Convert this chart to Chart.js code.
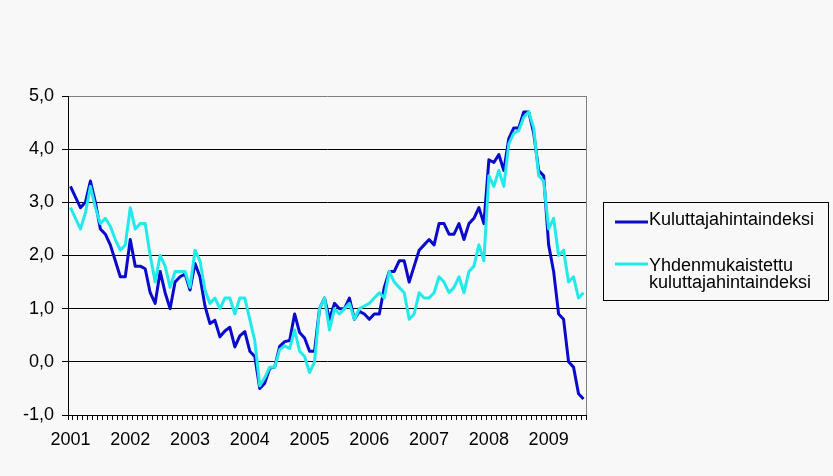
<!DOCTYPE html>
<html><head><meta charset="utf-8">
<script src="https://cdn.jsdelivr.net/npm/chart.js@4/dist/chart.umd.min.js"></script>
<style>html,body{margin:0;padding:0;background:#f8f8f8;}#wrap{width:833px;height:476px;position:relative;}</style>
</head><body><div id="wrap"><canvas id="c" width="833" height="476"></canvas></div>
<script>
const years = ['2001','2002','2003','2004','2005','2006','2007','2008','2009'];
const monthsInLastYear = 8;
const seriesNames = ['Kuluttajahintaindeksi', ['Yhdenmukaistettu', 'kuluttajahintaindeksi']];
const seriesColors = ['#0A0ACC', '#22EAEA'];
// Kuluttajahintaindeksi, annual change %
const cpi = [
  3.3, 3.1, 2.9, 3.0, 3.4, 3.0, 2.5, 2.4, 2.2, 1.9, 1.6, 1.6,
  2.3, 1.8, 1.8, 1.75, 1.3, 1.1, 1.7, 1.3, 1.0, 1.5, 1.6, 1.65,
  1.35, 1.85, 1.6, 1.05, 0.72, 0.78, 0.47, 0.58, 0.65, 0.28, 0.49, 0.57,
  0.2, 0.1, -0.5, -0.4, -0.12, -0.1, 0.29, 0.38, 0.4, 0.9, 0.55, 0.45,
  0.2, 0.2, 1.0, 1.2, 0.8, 1.1, 1.0, 1.0, 1.2, 0.8, 0.95, 0.9,
  0.8, 0.9, 0.9, 1.4, 1.7, 1.7, 1.9, 1.9, 1.5, 1.8, 2.1, 2.2,
  2.3, 2.2, 2.6, 2.6, 2.4, 2.4, 2.6, 2.3, 2.6, 2.7, 2.9, 2.6,
  3.8, 3.75, 3.9, 3.6, 4.2, 4.4, 4.4, 4.7, 4.7, 4.3, 3.6, 3.5,
  2.2, 1.7, 0.9, 0.8, 0.0, -0.1, -0.6, -0.7
];
// Yhdenmukaistettu kuluttajahintaindeksi, annual change %
const hicp = [
  2.9, 2.7, 2.5, 2.8, 3.3, 2.9, 2.6, 2.7, 2.55, 2.3, 2.1, 2.2,
  2.9, 2.5, 2.6, 2.6, 2.0, 1.5, 2.0, 1.8, 1.4, 1.7, 1.7, 1.7,
  1.4, 2.1, 1.9, 1.35, 1.1, 1.2, 1.0, 1.2, 1.2, 0.9, 1.2, 1.2,
  0.8, 0.4, -0.45, -0.3, -0.1, -0.1, 0.23, 0.3, 0.25, 0.6, 0.2, 0.1,
  -0.2, 0.0, 1.0, 1.2, 0.6, 1.0, 0.9, 1.0, 1.1, 0.8, 1.0, 1.05,
  1.1, 1.2, 1.3, 1.2, 1.7, 1.5, 1.4, 1.3, 0.8, 0.9, 1.3, 1.2,
  1.2, 1.3, 1.6, 1.5, 1.3, 1.4, 1.6, 1.3, 1.7, 1.8, 2.2, 1.9,
  3.5, 3.3, 3.6, 3.3, 4.1, 4.3, 4.35, 4.6, 4.7, 4.4, 3.5, 3.4,
  2.5, 2.7, 2.0, 2.1, 1.5, 1.6, 1.2, 1.3
];
const yMin = -1, yMax = 5, yStep = 1;

const labels = [];
years.forEach((y, k) => {
  const n = (k === years.length - 1) ? monthsInLastYear : 12;
  for (let m = 1; m <= n; m++) labels.push(y + '-' + String(m).padStart(2, '0'));
});

const FONT = "'Liberation Sans', Arial, sans-serif";

const frame = {
  id: 'frame',
  afterDatasetsDraw(chart) {
    const {ctx, chartArea: a} = chart;
    ctx.save();
    ctx.strokeStyle = '#808080';
    ctx.lineWidth = 1;
    ctx.beginPath();
    ctx.moveTo(Math.round(a.right) + 0.5, a.top);
    ctx.lineTo(Math.round(a.right) + 0.5, a.bottom);
    ctx.stroke();
    ctx.restore();
  }
};

const boxLegend = {
  id: 'boxLegend',
  afterDraw(chart) {
    const ctx = chart.ctx;
    ctx.save();
    ctx.strokeStyle = '#000';
    ctx.lineWidth = 1;
    ctx.strokeRect(603.5, 202.5, 225, 98);
    ctx.font = '18px ' + FONT;
    ctx.fillStyle = '#000';
    ctx.textBaseline = 'alphabetic';
    ctx.textAlign = 'left';
    const rows = [{ly: 222, ty: [224.5]}, {ly: 264, ty: [271, 288]}];
    seriesNames.forEach((nm, i) => {
      ctx.strokeStyle = seriesColors[i];
      ctx.lineWidth = 3;
      ctx.beginPath();
      ctx.moveTo(615, rows[i].ly);
      ctx.lineTo(648, rows[i].ly);
      ctx.stroke();
      const lines = Array.isArray(nm) ? nm : [nm];
      lines.forEach((t, j) => ctx.fillText(t, 649, rows[i].ty[j]));
    });
    ctx.restore();
  }
};

new Chart(document.getElementById('c'), {
  type: 'line',
  data: {
    labels,
    datasets: [
      {label: seriesNames[0], data: cpi, borderColor: seriesColors[0], borderWidth: 3, pointRadius: 0, tension: 0, order: 1, borderJoinStyle: 'round'},
      {label: seriesNames[1].join(' '), data: hicp, borderColor: seriesColors[1], borderWidth: 3, pointRadius: 0, tension: 0, order: 0, borderJoinStyle: 'round'}
    ]
  },
  options: {
    responsive: false,
    animation: false,
    devicePixelRatio: 1,
    layout: {padding: {top: 96, right: 247, bottom: 0, left: 0}},
    plugins: {legend: {display: false}, tooltip: {enabled: false}},
    scales: {
      x: {
        type: 'category',
        offset: true,
        afterFit(s) { s.height = 61; },
        grid: {display: true, drawOnChartArea: false, drawTicks: true, tickLength: 5, color: '#000', offset: true},
        border: {display: true, color: '#000', width: 1},
        ticks: {
          autoSkip: false, maxRotation: 0, minRotation: 0, padding: 9,
          color: '#000', font: {family: FONT, size: 18},
          callback(v, i) { const l = labels[i]; return l.endsWith('-01') ? l.slice(0, 4) : ''; }
        }
      },
      y: {
        min: yMin, max: yMax,
        afterFit(s) { s.width = 68; },
        grid: {
          color: c => (c.tick && c.tick.value === yMax) ? '#808080' : '#000',
          tickColor: '#000', tickLength: 6, drawTicks: true
        },
        border: {display: true, color: '#000', width: 1},
        ticks: {
          stepSize: yStep, padding: 8, color: '#000', font: {family: FONT, size: 18},
          callback: v => v.toFixed(1).replace('.', ',')
        }
      }
    }
  },
  plugins: [frame, boxLegend]
});
</script></body></html>
